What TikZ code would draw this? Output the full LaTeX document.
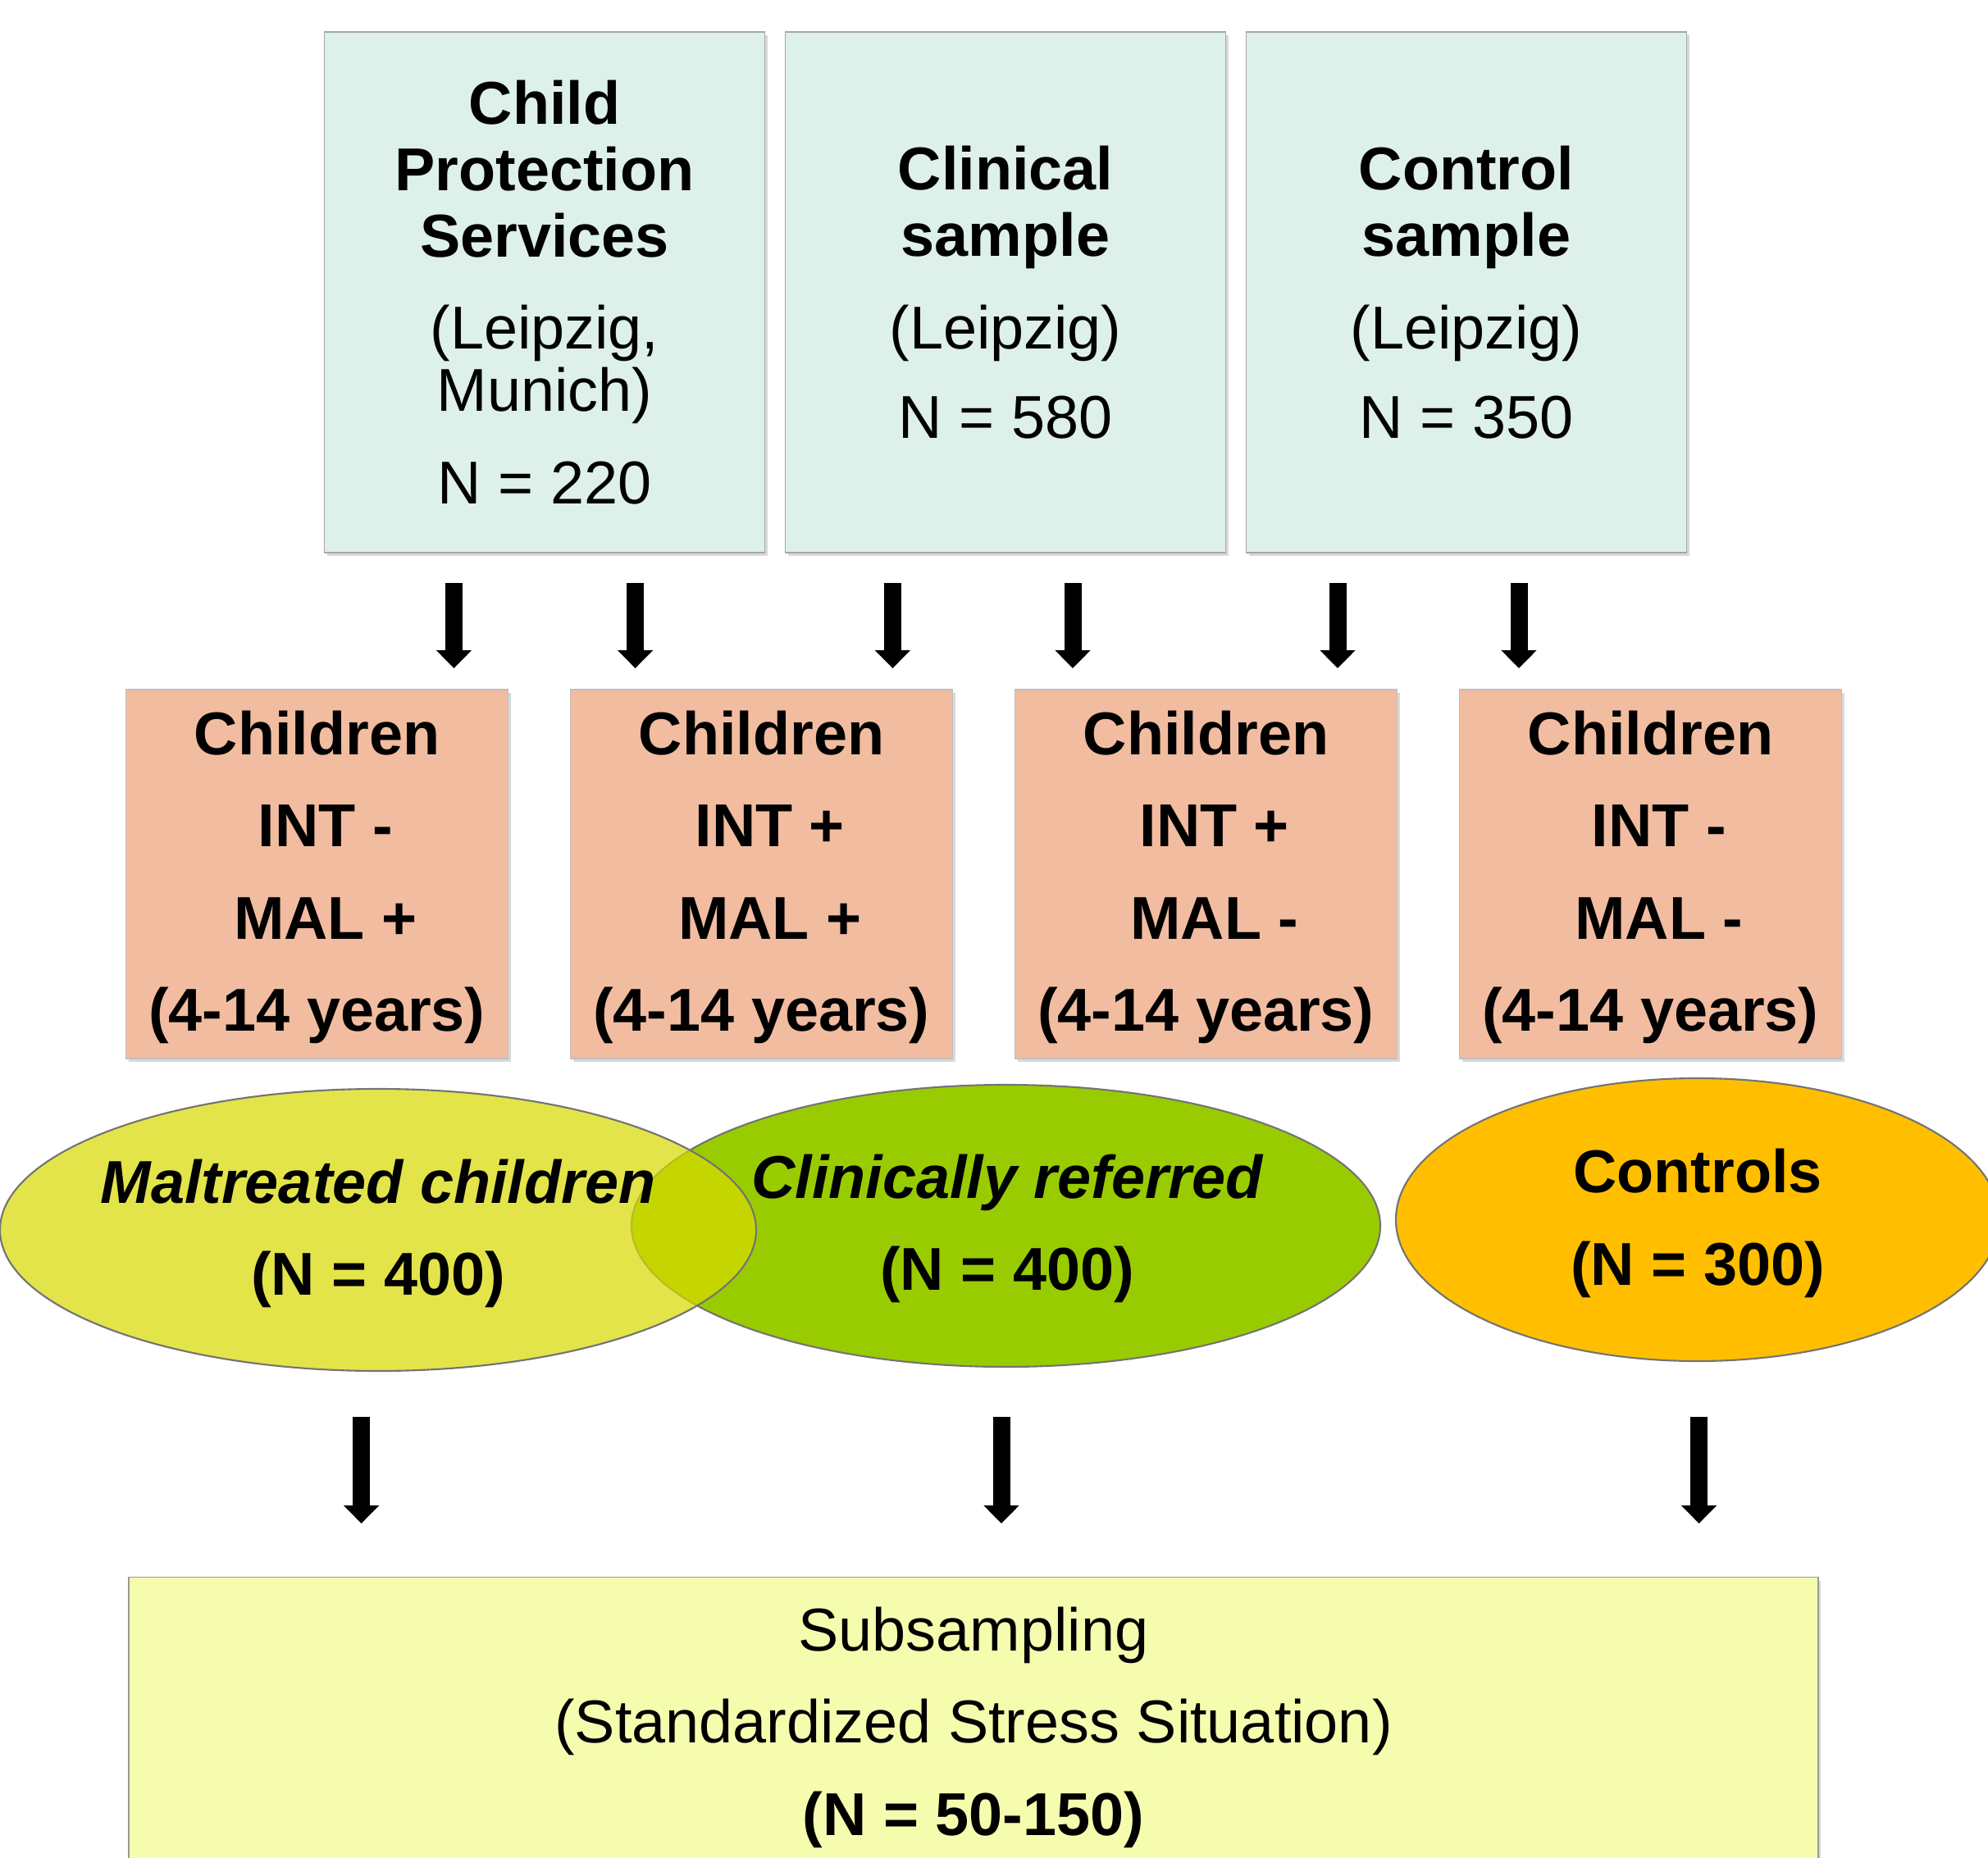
\documentclass[tikz,border=0pt]{standalone}
\usepackage{fontspec}
\setmainfont{Liberation Sans}
\usetikzlibrary{positioning,arrows.meta,shapes.geometric,shadows}

\definecolor{mintbox}{RGB}{221,240,233}
\definecolor{salmonbox}{RGB}{242,188,160}
\definecolor{maltfill}{RGB}{215,217,0}
\definecolor{clinfill}{RGB}{153,204,0}
\definecolor{ctrlfill}{RGB}{255,191,0}
\definecolor{subsfill}{RGB}{245,252,174}

\tikzset{
  srcbox/.style={draw=black!35, fill=mintbox, minimum width=5.37cm, minimum height=6.35cm,
    inner sep=0pt, outer sep=0pt, align=center, font=\fontsize{21}{23}\selectfont,
    drop shadow={shadow xshift=0.03cm, shadow yshift=-0.04cm, opacity=0.3}},
  grpbox/.style={draw=black!25, fill=salmonbox, minimum width=4.66cm, minimum height=4.5cm,
    inner sep=0pt, outer sep=0pt, align=center, font=\bfseries\fontsize{21}{32}\selectfont,
    drop shadow={shadow xshift=0.03cm, shadow yshift=-0.04cm, opacity=0.3}},
  grpellipse/.style={ellipse, draw=black!55, line width=0.6pt, inner sep=0pt},
  grptext/.style={align=center, yshift=-0.045cm, font=\bfseries\fontsize{21}{32}\selectfont},
  bigarrow/.style={line width=0.21cm, -{Triangle[width=0.42cm,length=0.22cm]}},
}

\begin{document}
\begin{tikzpicture}

  \useasboundingbox (0,0) rectangle (24.24,-22.66);
  \clip (0,0) rectangle (24.24,-22.66);

  % Sources
  \node [srcbox] (cps) at (6.64,-3.565)
    {\textbf{Child}\\\textbf{Protection}\\\textbf{Services}\\[9pt]
     (Leipzig,\\[-1.4pt]Munich)\\[9pt]N = 220};
  \node [srcbox,right=0.25cm of cps] (clinical)
    {\textbf{Clinical}\\\textbf{sample}\\[9pt](Leipzig)\\[8pt]N = 580};
  \node [srcbox,right=0.25cm of clinical] (control)
    {\textbf{Control}\\\textbf{sample}\\[9pt](Leipzig)\\[8pt]N = 350};

  % Groups
  \node [grpbox] (grpA) at (3.865,-10.66)
    {\rule{0pt}{17.5pt}Children\\\kern.28em INT -\\\kern.28em MAL +\\(4-14 years)};
  \node [grpbox,right=0.76cm of grpA] (grpB)
    {\rule{0pt}{17.5pt}Children\\\kern.28em INT +\\\kern.28em MAL +\\(4-14 years)};
  \node [grpbox,right=0.76cm of grpB] (grpC)
    {\rule{0pt}{17.5pt}Children\\\kern.28em INT +\\\kern.28em MAL -\\(4-14 years)};
  \node [grpbox,right=0.76cm of grpC] (grpD)
    {\rule{0pt}{17.5pt}Children\\\kern.28em INT -\\\kern.28em MAL -\\(4-14 years)};

  % Arrows 1 and 2
  \node [coordinate] (ta1) at (5.535,-7.11) {};
  \node [coordinate,below=1.04cm of ta1] (tb1) {};
  \draw [bigarrow] (ta1) -- (tb1);
  \node [coordinate] (ta2) at (7.746,-7.11) {};
  \node [coordinate,below=1.04cm of ta2] (tb2) {};
  \draw [bigarrow] (ta2) -- (tb2);

  % Arrows 3 and 4
  \node [coordinate] (ta3) at (10.884,-7.11) {};
  \node [coordinate,below=1.04cm of ta3] (tb3) {};
  \draw [bigarrow] (ta3) -- (tb3);
  \node [coordinate] (ta4) at (13.08,-7.11) {};
  \node [coordinate,below=1.04cm of ta4] (tb4) {};
  \draw [bigarrow] (ta4) -- (tb4);

  % Arrows 5 and 6
  \node [coordinate] (ta5) at (16.31,-7.11) {};
  \node [coordinate,below=1.04cm of ta5] (tb5) {};
  \draw [bigarrow] (ta5) -- (tb5);
  \node [coordinate] (ta6) at (18.52,-7.11) {};
  \node [coordinate,below=1.04cm of ta6] (tb6) {};
  \draw [bigarrow] (ta6) -- (tb6);

  % Samples
  \node [grpellipse,fill=clinfill,minimum width=9.13cm,minimum height=3.44cm] (clin) at (12.265,-14.95) {};
  \node [grpellipse,fill=maltfill,fill opacity=0.71,minimum width=9.22cm,minimum height=3.44cm] (malt) at (4.61,-15.0) {};
  \node [grpellipse,fill=ctrlfill,minimum width=7.36cm,minimum height=3.45cm] (ctrl) at (20.70,-14.875) {};
  \node [grptext] (malttext) at (malt) {\itshape Maltreated children\\(N = 400)};
  \node [grptext] (clintext) at (12.28,-14.94) {\itshape Clinically referred\\(N = 400)};
  \node [grptext] (ctrltext) at (ctrl) {Controls\\(N = 300)};

  % Arrows to subsample
  \node [coordinate] (ba1) at (4.406,-17.28) {};
  \node [coordinate,below=1.3cm of ba1] (bb1) {};
  \draw [bigarrow] (ba1) -- (bb1);
  \node [coordinate] (ba2) at (12.21,-17.28) {};
  \node [coordinate,below=1.3cm of ba2] (bb2) {};
  \draw [bigarrow] (ba2) -- (bb2);
  \node [coordinate] (ba3) at (20.716,-17.28) {};
  \node [coordinate,below=1.3cm of ba3] (bb3) {};
  \draw [bigarrow] (ba3) -- (bb3);

  % Subsample
  \node [draw=black!40,fill=subsfill,minimum width=20.6cm,minimum height=3.66cm,
    inner sep=0pt,anchor=north,align=center,font=\fontsize{21}{32}\selectfont,
    drop shadow={shadow xshift=0.03cm, shadow yshift=-0.04cm, opacity=0.3}] (subs) at (11.87,-19.23)
    {Subsampling\\(Standardized Stress Situation)\\\textbf{(N = 50-150)}};

\end{tikzpicture}
\end{document}
